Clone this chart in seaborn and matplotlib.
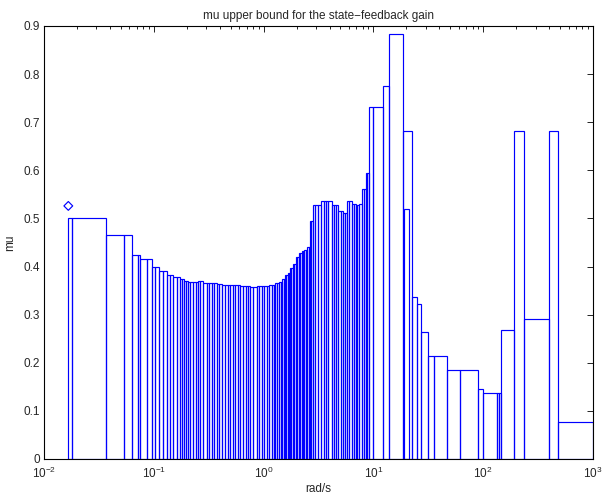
import numpy as np
import pandas as pd
import matplotlib
matplotlib.use("Agg")
import matplotlib.pyplot as plt
import seaborn as sns
from matplotlib.ticker import LogLocator, FixedLocator, NullFormatter

# frequency edges (rad/s); bar i spans edges[i] .. edges[i+1]
freq_edges = [0.01665, 0.01788, 0.0369, 0.0539, 0.0629, 0.0711, 0.0749, 0.0873, 0.0957, 0.1036,
              0.1122, 0.1213, 0.1319, 0.1405, 0.1496, 0.1610, 0.1732, 0.1806, 0.1884, 0.1965,
              0.2049, 0.2159, 0.2289, 0.2407, 0.2527, 0.2662, 0.2806, 0.3032, 0.3216, 0.3389,
              0.3571, 0.3763, 0.3966, 0.4179, 0.4452, 0.4741, 0.4995, 0.5264, 0.5547, 0.5847,
              0.6097, 0.6493, 0.6843, 0.7210, 0.7598, 0.8008, 0.8650, 0.9080, 0.9610, 1.0085,
              1.063, 1.120, 1.185, 1.231, 1.270, 1.325, 1.390, 1.441, 1.481, 1.524,
              1.566, 1.616, 1.658, 1.703, 1.740, 1.795, 1.841, 1.912, 1.973, 2.036,
              2.101, 2.168, 2.223, 2.285, 2.348, 2.433, 2.500, 2.575, 2.646, 2.731,
              2.836, 2.970, 3.130, 3.313, 3.513, 3.702, 3.901, 4.171, 4.423, 4.613,
              4.789, 5.018, 5.255, 5.479, 5.713, 5.996, 6.345, 6.617, 6.900, 7.166,
              7.441, 7.825, 8.160, 8.510, 8.801, 9.120, 9.979, 12.31, 13.88, 18.80,
              22.33, 24.80, 26.97, 31.62, 35.64, 46.52, 61.49, 90.25, 100.2, 132.7,
              137.9, 144.3, 192.0, 236.7, 399.9, 477.0, 993.8]

mu_upper = [0.500, 0.500, 0.466, 0.466, 0.425, 0.425, 0.415, 0.415, 0.400, 0.400,
            0.390, 0.390, 0.382, 0.382, 0.378, 0.378, 0.374, 0.374, 0.370, 0.370,
            0.367, 0.367, 0.367, 0.367, 0.369, 0.369, 0.365, 0.365, 0.365, 0.366,
            0.366, 0.363, 0.363, 0.362, 0.362, 0.362, 0.362, 0.362, 0.362, 0.362,
            0.360, 0.360, 0.360, 0.359, 0.358, 0.358, 0.360, 0.360, 0.360, 0.360,
            0.360, 0.361, 0.362, 0.362, 0.365, 0.365, 0.367, 0.367, 0.374, 0.374,
            0.382, 0.382, 0.387, 0.387, 0.396, 0.396, 0.406, 0.406, 0.420, 0.420,
            0.429, 0.429, 0.433, 0.433, 0.435, 0.435, 0.440, 0.440, 0.495, 0.495,
            0.527, 0.527, 0.527, 0.537, 0.537, 0.537, 0.537, 0.528, 0.528, 0.528,
            0.516, 0.516, 0.512, 0.512, 0.536, 0.536, 0.530, 0.530, 0.528, 0.528,
            0.531, 0.561, 0.561, 0.595, 0.595, 0.731, 0.731, 0.776, 0.883, 0.682,
            0.336, 0.322, 0.263, 0.215, 0.215, 0.185, 0.185, 0.145, 0.137, 0.137,
            0.137, 0.268, 0.682, 0.290, 0.682, 0.077]

# overlapping extra bar
extra_lo = [19.20]
extra_hi = [21.10]
extra_mu = [0.519]

# marker point
marker_freq = [0.01665]
marker_mu = [0.526]

sns.set_style("white")
plt.rcParams['font.family'] = ['Liberation Sans', 'DejaVu Sans']

fig = plt.figure(figsize=(6.02, 4.93), dpi=100)
ax = fig.add_axes([0.0731, 0.069, 0.9119, 0.8783])
ax.set_xscale('log')

edges = np.array(freq_edges)
lefts = edges[:-1]
widths = np.diff(edges)
ax.bar(lefts, mu_upper, width=widths, align='edge', fill=False,
       edgecolor=(0, 0, 1), linewidth=0.85)
ax.bar(np.array(extra_lo), extra_mu, width=np.array(extra_hi) - np.array(extra_lo),
       align='edge', fill=False, edgecolor=(0, 0, 1), linewidth=0.85)

df = pd.DataFrame({'freq': marker_freq, 'mu': marker_mu})
sns.scatterplot(data=df, x='freq', y='mu', ax=ax, marker='D', s=20,
                facecolor='none', edgecolor=(0, 0, 1), linewidth=0.85, legend=False)

ax.set_xlim(1e-2, 1e3)
ax.set_ylim(0, 0.9)
ax.set_yticks(np.arange(0, 0.91, 0.1))
ax.set_yticklabels(['0', '0.1', '0.2', '0.3', '0.4', '0.5', '0.6', '0.7', '0.8', '0.9'])
ax.xaxis.set_major_locator(FixedLocator([1e-2, 1e-1, 1e0, 1e1, 1e2, 1e3]))
ax.xaxis.set_minor_locator(LogLocator(base=10, subs=np.arange(2, 10), numticks=20))
ax.xaxis.set_minor_formatter(NullFormatter())

ax.tick_params(which='both', direction='in', top=True, right=True, labelsize=8.5,
               color='black', width=0.6)
ax.tick_params(which='major', length=4)
ax.tick_params(which='minor', length=2.5)
ax.tick_params(axis='x', which='major', pad=5)
ax.tick_params(axis='y', which='major', pad=3)
for sp in ax.spines.values():
    sp.set_color('black')
    sp.set_linewidth(0.8)

ax.set_xlabel('rad/s', fontsize=8.5, labelpad=1)
ax.set_ylabel('mu', fontsize=8.5, labelpad=5)
ax.set_title('mu upper bound for the state\u2212feedback gain', fontsize=8.5, pad=5)

fig.savefig('out.png', dpi=100)
